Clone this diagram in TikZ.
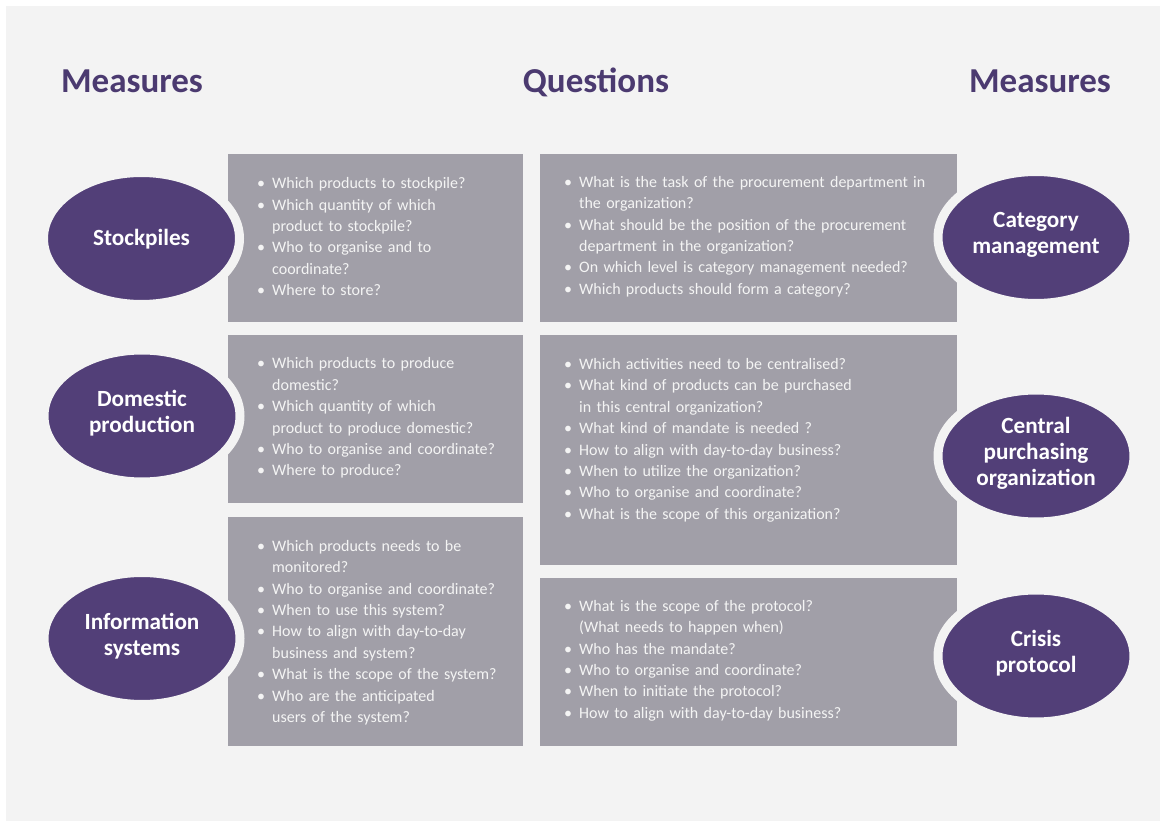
\documentclass[tikz,border=0pt]{standalone}
\usepackage{fontspec}
\setmainfont{Carlito}
\usetikzlibrary{shapes.geometric}
\definecolor{bgc}{HTML}{F3F3F3}
\definecolor{boxc}{HTML}{A19FA8}
\definecolor{purp}{HTML}{523F78}
\definecolor{headc}{HTML}{4B3A70}
\definecolor{txtc}{HTML}{F4F4F4}
\newcommand\bitem[1]{\par\hangindent=15pt\hangafter=1\noindent\makebox[15pt][l]{\textbullet}#1}
\tikzset{
  qbox/.style={fill=boxc, draw=none},
  qtext/.style={anchor=west, inner sep=0pt, text=txtc, text width=380pt, align=left,
    font=\fontsize{16}{21.4}\selectfont},
  meas/.style={ellipse, fill=purp, draw=bgc, line width=9pt, minimum width=196pt,
    minimum height=132pt, inner sep=0pt},
  mlab/.style={inner sep=0pt, text=white, align=center,
    font=\bfseries\fontsize{23.2}{26}\selectfont},
  head/.style={anchor=base, text=headc, inner sep=0pt, font=\bfseries\fontsize{35}{40}\selectfont}
}
\begin{document}
\begin{tikzpicture}[x=1pt,y=-1pt]
\useasboundingbox (0,0) rectangle (1160,821);
\fill[white] (0,0) rectangle (1160,821);
\fill[bgc] (6,6) rectangle (1160,821);

\node[head] (h1) at (132,93) {Measures};
\node[head] (h2) at (596,93) {Questions};
\node[head] (h3) at (1040,93) {Measures};

% boxes
\path[qbox] (228,154) rectangle (523,322);
\path[qbox] (228,335) rectangle (523,503);
\path[qbox] (228,517) rectangle (523,746);
\path[qbox] (540,154) rectangle (957,322);
\path[qbox] (540,335) rectangle (957,565);
\path[qbox] (540,578) rectangle (957,746);

\node[qtext] (t1) at (257,231.5) {%
\bitem{Which products to stockpile?}
\bitem{Which quantity of which\newline product to stockpile?}
\bitem{Who to organise and to\newline coordinate?}
\bitem{Where to store?}\par};

\node[qtext] (t2) at (257,413) {%
\bitem{Which products to produce\newline domestic?}
\bitem{Which quantity of which\newline product to produce domestic?}
\bitem{Who to organise and coordinate?}
\bitem{Where to produce?}\par};

\node[qtext] (t3) at (257,627.5) {%
\bitem{Which products needs to be\newline monitored?}
\bitem{Who to organise and coordinate?}
\bitem{When to use this system?}
\bitem{How to align with day-to-day\newline business and system?}
\bitem{What is the scope of the system?}
\bitem{Who are the anticipated\newline users of the system?}\par};

\node[qtext] (t4) at (564,231.5) {%
\bitem{What is the task of the procurement department in\newline the organization?}
\bitem{What should be the position of the procurement\newline department in the organization?}
\bitem{On which level is category management needed?}
\bitem{Which products should form a category?}\par};

\node[qtext] (t5) at (564,435) {%
\bitem{Which activities need to be centralised?}
\bitem{What kind of products can be purchased\newline in this central organization?}
\bitem{What kind of mandate is needed ?}
\bitem{How to align with day-to-day business?}
\bitem{When to utilize the organization?}
\bitem{Who to organise and coordinate?}
\bitem{What is the scope of this organization?}\par};

\node[qtext] (t6) at (564,655.5) {%
\bitem{What is the scope of the protocol?\newline (What needs to happen when)}
\bitem{Who has the mandate?}
\bitem{Who to organise and coordinate?}
\bitem{When to initiate the protocol?}
\bitem{How to align with day-to-day business?}\par};

% measures
\node[meas] (m1) at (141.5,238.5) {};
\node[meas] (m2) at (142,416) {};
\node[meas] (m3) at (142,638.5) {};
\node[meas] (m4) at (1036,237.5) {};
\node[meas] (m5) at (1036,456) {};
\node[meas] (m6) at (1036,656) {};
\node[mlab] (l1) at (141.5,239) {Stockpiles};
\node[mlab] (l2) at (142,413) {Domestic\\production};
\node[mlab] (l3) at (142,636) {Information\\systems};
\node[mlab] (l4) at (1036,234.5) {Category\\management};
\node[mlab] (l5) at (1036,453) {Central\\purchasing\\organization};
\node[mlab] (l6) at (1036,653) {Crisis\\protocol};
\end{tikzpicture}
\end{document}
